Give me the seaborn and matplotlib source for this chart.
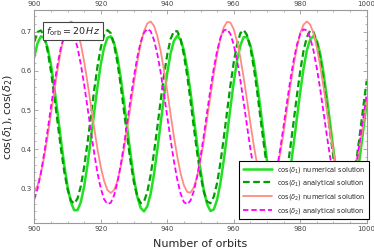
import matplotlib
matplotlib.use("Agg")
import matplotlib.pyplot as plt
import seaborn as sns
from matplotlib.ticker import MultipleLocator

# orbit number (x axis)
orbits = list(range(900, 1001))

# cos(delta_1) numerical solution at each orbit
cos_d1_num = [
    0.636, 0.672, 0.689, 0.685, 0.660, 0.617, 0.559, 0.493, 0.424, 0.359,
    0.304, 0.264, 0.243, 0.243, 0.264, 0.304, 0.359, 0.424, 0.493, 0.559,
    0.617, 0.660, 0.685, 0.689, 0.672, 0.636, 0.583, 0.520, 0.451, 0.384,
    0.324, 0.277, 0.249, 0.240, 0.253, 0.285, 0.335, 0.397, 0.465, 0.533,
    0.595, 0.645, 0.677, 0.690, 0.681, 0.653, 0.606, 0.546, 0.479, 0.411,
    0.347, 0.294, 0.258, 0.241, 0.245, 0.270, 0.313, 0.371, 0.437, 0.506,
    0.571, 0.627, 0.666, 0.687, 0.687, 0.666, 0.627, 0.571, 0.506, 0.437,
    0.371, 0.313, 0.270, 0.245, 0.241, 0.258, 0.294, 0.347, 0.411, 0.479,
    0.546, 0.606, 0.653, 0.681, 0.690, 0.677, 0.645, 0.595, 0.533, 0.465,
    0.397, 0.335, 0.285, 0.253, 0.240, 0.249, 0.277, 0.324, 0.384, 0.451,
    0.520,
]

# cos(delta_1) analytical solution
cos_d1_ana = [
    0.675, 0.700, 0.704, 0.687, 0.652, 0.600, 0.537, 0.469, 0.402, 0.343,
    0.297, 0.268, 0.260, 0.273, 0.305, 0.354, 0.415, 0.482, 0.550, 0.611,
    0.660, 0.692, 0.705, 0.697, 0.668, 0.622, 0.563, 0.496, 0.428, 0.365,
    0.313, 0.278, 0.261, 0.265, 0.290, 0.333, 0.390, 0.455, 0.523, 0.588,
    0.642, 0.682, 0.702, 0.702, 0.682, 0.642, 0.588, 0.523, 0.455, 0.390,
    0.333, 0.290, 0.265, 0.261, 0.278, 0.313, 0.365, 0.428, 0.496, 0.563,
    0.622, 0.668, 0.697, 0.705, 0.692, 0.660, 0.611, 0.550, 0.482, 0.415,
    0.354, 0.305, 0.273, 0.260, 0.268, 0.297, 0.343, 0.402, 0.469, 0.537,
    0.600, 0.652, 0.687, 0.704, 0.700, 0.675, 0.632, 0.575, 0.510, 0.442,
    0.377, 0.323, 0.283, 0.263, 0.263, 0.283, 0.323, 0.377, 0.442, 0.510,
    0.575,
]

# cos(delta_2) numerical solution
cos_d2_num = [
    0.290, 0.307, 0.338, 0.381, 0.432, 0.489, 0.548, 0.603, 0.652, 0.690,
    0.716, 0.727, 0.722, 0.702, 0.669, 0.624, 0.571, 0.513, 0.455, 0.400,
    0.354, 0.318, 0.295, 0.287, 0.295, 0.318, 0.354, 0.400, 0.455, 0.513,
    0.571, 0.624, 0.669, 0.702, 0.722, 0.727, 0.716, 0.690, 0.652, 0.603,
    0.548, 0.489, 0.432, 0.381, 0.338, 0.307, 0.290, 0.288, 0.302, 0.330,
    0.371, 0.421, 0.478, 0.536, 0.593, 0.643, 0.684, 0.712, 0.726, 0.724,
    0.707, 0.676, 0.634, 0.582, 0.525, 0.466, 0.411, 0.362, 0.324, 0.298,
    0.287, 0.292, 0.312, 0.345, 0.390, 0.443, 0.501, 0.559, 0.614, 0.660,
    0.697, 0.719, 0.727, 0.719, 0.697, 0.660, 0.614, 0.559, 0.501, 0.443,
    0.390, 0.345, 0.312, 0.292, 0.287, 0.298, 0.324, 0.362, 0.411, 0.466,
    0.525,
]

# cos(delta_2) analytical solution
cos_d2_ana = [
    0.271, 0.299, 0.339, 0.390, 0.447, 0.507, 0.565, 0.617, 0.660, 0.690,
    0.706, 0.706, 0.690, 0.660, 0.617, 0.565, 0.507, 0.447, 0.390, 0.339,
    0.299, 0.271, 0.259, 0.262, 0.281, 0.314, 0.359, 0.412, 0.471, 0.531,
    0.587, 0.636, 0.674, 0.698, 0.708, 0.702, 0.680, 0.644, 0.597, 0.542,
    0.483, 0.424, 0.369, 0.322, 0.286, 0.264, 0.258, 0.268, 0.292, 0.330,
    0.379, 0.435, 0.495, 0.554, 0.607, 0.652, 0.685, 0.704, 0.707, 0.695,
    0.667, 0.627, 0.576, 0.519, 0.459, 0.401, 0.349, 0.306, 0.276, 0.260,
    0.260, 0.276, 0.306, 0.349, 0.401, 0.459, 0.519, 0.576, 0.627, 0.667,
    0.695, 0.707, 0.704, 0.685, 0.652, 0.607, 0.554, 0.495, 0.435, 0.379,
    0.330, 0.292, 0.268, 0.258, 0.264, 0.286, 0.322, 0.369, 0.424, 0.483,
    0.542,
]

series_labels = [
    r'$\cos(\delta_1)$ numerical solution',
    r'$\cos(\delta_1)$ analytical solution',
    r'$\cos(\delta_2)$ numerical solution',
    r'$\cos(\delta_2)$ analytical solution',
]

sns.set_style('ticks')
plt.rcParams['font.family'] = ['DejaVu Sans']
plt.rcParams['mathtext.fontset'] = 'dejavusans'

fig = plt.figure(figsize=(3.74, 2.5), dpi=100)
ax = fig.add_axes([0.0917, 0.1068, 0.8888, 0.8532])

dash = (0, (3, 1.6))
sns.lineplot(x=orbits, y=cos_d1_num, ax=ax, color='#22e022', lw=1.8, label=series_labels[0])
sns.lineplot(x=orbits, y=cos_d1_ana, ax=ax, color='#009e00', lw=1.6, linestyle=dash, label=series_labels[1])
sns.lineplot(x=orbits, y=cos_d2_num, ax=ax, color='#ff8c84', lw=1.3, label=series_labels[2])
sns.lineplot(x=orbits, y=cos_d2_ana, ax=ax, color='#ff00ff', lw=1.3, linestyle=dash, label=series_labels[3])

ax.set_xlim(900, 1000)
ax.set_ylim(0.2095, 0.7564)
ax.xaxis.set_major_locator(MultipleLocator(20))
ax.xaxis.set_minor_locator(MultipleLocator(5))
ax.yaxis.set_major_locator(MultipleLocator(0.1))
ax.yaxis.set_minor_locator(MultipleLocator(0.02))

for sp in ax.spines.values():
    sp.set_color('#9a9a9a')
    sp.set_linewidth(0.8)
ax.tick_params(which='both', direction='in', top=True, right=True, labeltop=True,
               labelsize=5, labelcolor='#444444', color='#9a9a9a', pad=2)
ax.tick_params(which='major', length=3, width=0.6)
ax.tick_params(which='minor', length=1.5, width=0.5)

ax.set_xlabel('Number of orbits', fontsize=8, labelpad=5)
ax.set_ylabel(r'$\cos(\delta_1),\cos(\delta_2)$', fontsize=8, labelpad=4)

ax.text(0.117, 0.90, r'$f_{\rm orb} = 20\,Hz$', transform=ax.transAxes, fontsize=6.8,
        ha='center', va='center',
        bbox=dict(boxstyle='square,pad=0.28', fc='white', ec='#444444', lw=0.8))

leg = ax.legend(loc='lower right', bbox_to_anchor=(1.008, 0.019), borderaxespad=0,
                fontsize=4.8, frameon=True, fancybox=False, framealpha=1,
                edgecolor='black', handlelength=4.4, handletextpad=0.8,
                labelspacing=0.55, borderpad=0.55)
leg.get_frame().set_linewidth(0.8)

fig.savefig('out.png', dpi=100)
